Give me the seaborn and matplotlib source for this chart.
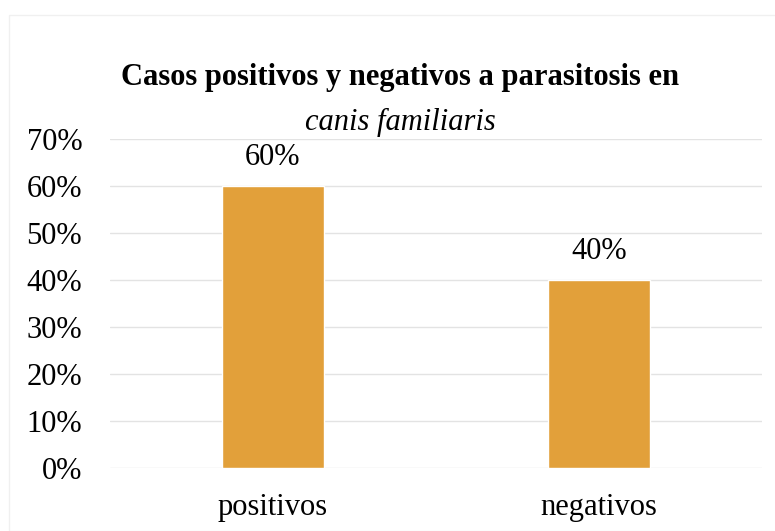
import matplotlib
matplotlib.use("Agg")
import matplotlib.pyplot as plt
import seaborn as sns
import pandas as pd
from matplotlib.patches import Rectangle

# data
categories = ["positivos", "negativos"]
values = [0.60, 0.40]
tick_values = [0.0, 0.1, 0.2, 0.3, 0.4, 0.5, 0.6, 0.7]
tick_labels = ["0%", "10%", "20%", "30%", "40%", "50%", "60%", "70%"]
bar_labels = ["60%", "40%"]

df = pd.DataFrame({"caso": categories, "valor": values})

sns.set_style("white")
plt.rcParams["font.family"] = ["Liberation Serif", "DejaVu Serif"]
plt.rcParams["text.color"] = "black"
plt.rcParams["xtick.color"] = "black"
plt.rcParams["ytick.color"] = "black"

fig = plt.figure(figsize=(7.75, 5.31), dpi=100)
ax = fig.add_axes([110 / 775, 1 - 468 / 531, (762 - 110) / 775, (468 - 139) / 531])

sns.barplot(data=df, x="caso", y="valor", color="#E2A03A", saturation=1,
            width=0.31, ax=ax)

ax.set_ylim(0, 0.7)
ax.set_xlim(-0.5, 1.5)
ax.set_yticks(tick_values)
ax.set_yticklabels(tick_labels)
ax.yaxis.grid(True, color="#e3e3e3", linewidth=1)
ax.set_axisbelow(True)
ax.tick_params(axis="y", length=0, pad=20, labelsize=22)
ax.tick_params(axis="x", length=0, pad=18, labelsize=22)
ax.set_xlabel("")
ax.set_ylabel("")
sns.despine(ax=ax, left=True, bottom=True)

ax.bar_label(ax.containers[0], labels=bar_labels, padding=10, fontsize=22)

# title: first line bold, second line italic
fig.text(400 / 775, 1 - 78 / 531, "Casos positivos y negativos a parasitosis en",
         ha="center", va="center", fontsize=22, fontweight="bold")
fig.text(400 / 775, 1 - 122 / 531, "canis familiaris",
         ha="center", va="center", fontsize=22, fontstyle="italic")

# faint chart border
fig.patches.append(Rectangle((9 / 775, 0.0), 775 / 775, 1 - 15 / 531,
                             transform=fig.transFigure, fill=False,
                             edgecolor="#f0f0f0", linewidth=1))

fig.savefig("out.png", dpi=100)
